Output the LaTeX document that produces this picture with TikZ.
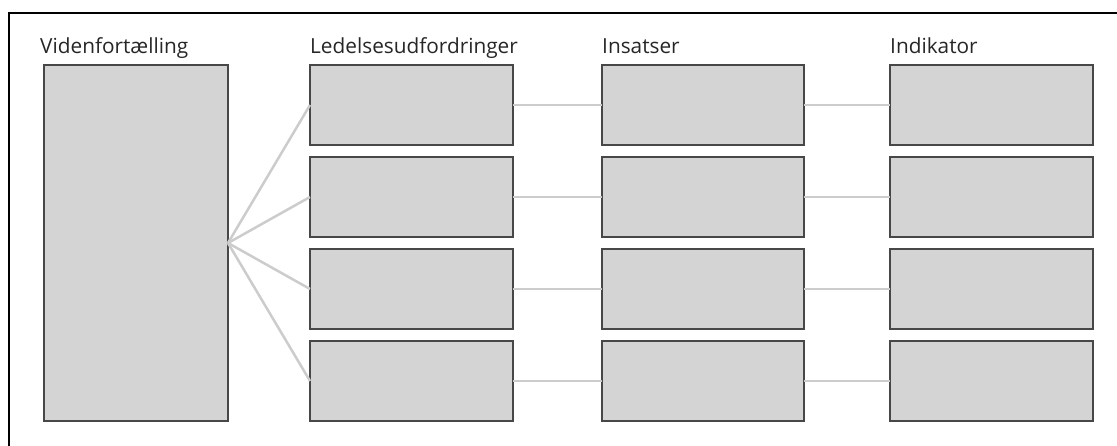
\documentclass[tikz,border=0pt]{standalone}
\usepackage{fontspec}
\setmainfont{Open Sans}
\begin{document}
\begin{tikzpicture}[x=1pt,y=-1pt,
  box/.style={draw=black!72,fill=black!17,line width=1.6pt,anchor=north west,inner sep=0pt,outer sep=0pt,minimum width=203pt,minimum height=80pt},
  link/.style={draw=black!20,line width=2.5pt},
  head/.style={anchor=base west,inner sep=0pt,font=\fontsize{20.8}{24}\selectfont,text=black!85}]
\useasboundingbox (0,0) rectangle (1117,446);
\draw[line width=2pt] (8.5,446) -- (8.5,13.5) -- (1117,13.5);
\node[head] (h1) at (40,54) {Videnfortælling};
\node[head] (h2) at (310,54) {Ledelsesudfordringer};
\node[head] (h3) at (602,54) {Insatser};
\node[head] (h4) at (890,54) {Indikator};
\node[box,minimum width=184pt,minimum height=356pt] (vf) at (44,65) {};
\foreach \i/\y in {1/65,2/157,3/249,4/341}{
  \node[box] (l\i) at (310,\y) {};
  \node[box,minimum width=202pt] (s\i) at (602,\y) {};
  \node[box] (k\i) at (890,\y) {};
}
\foreach \i in {1,...,4}{
  \draw[link] (vf.east) -- (l\i.west);
  \draw[link] (l\i.east) -- (s\i.west);
  \draw[link] (s\i.east) -- (k\i.west);
}
\end{tikzpicture}
\end{document}
